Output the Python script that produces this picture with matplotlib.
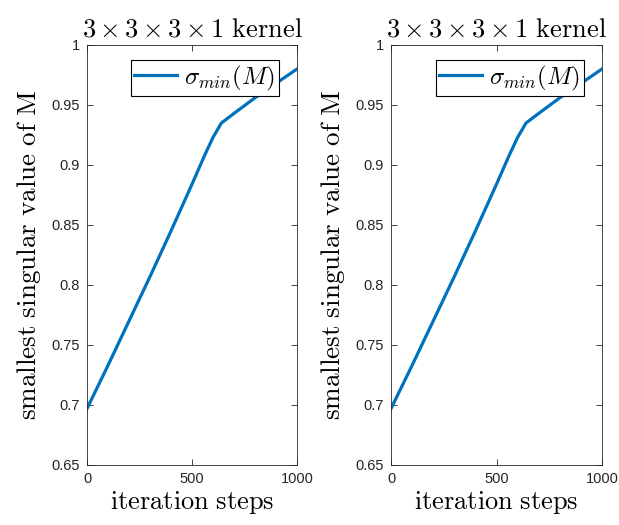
import matplotlib
matplotlib.use('Agg')
import matplotlib.pyplot as plt
from matplotlib.ticker import FuncFormatter

# values
steps = [0, 100, 200, 300, 400, 500, 560, 600, 640, 700, 800, 900, 1000]
sigma_min = [0.697, 0.733, 0.770, 0.807, 0.845, 0.884, 0.908, 0.923, 0.935,
             0.943, 0.956, 0.968, 0.980]

x_ticks = [0, 500, 1000]
y_ticks = [0.65, 0.7, 0.75, 0.8, 0.85, 0.9, 0.95, 1.0]

title = r'$3 \times 3 \times 3 \times 1\ \mathrm{kernel}$'
xlabel = r'$\mathrm{iteration\ steps}$'
ylabel = r'$\mathrm{smallest\ singular\ value\ of\ M}$'
legend_label = r'$\sigma_{min}(M)$'

plt.rcParams['mathtext.fontset'] = 'cm'
plt.rcParams['font.family'] = 'Liberation Sans'

line_color = '#0072BD'
axis_color = '#262626'

fig = plt.figure(figsize=(6.19, 5.25), dpi=100)

positions = [[87 / 619, 60 / 525, 210 / 619, 420 / 525],
             [391 / 619, 60 / 525, 211 / 619, 420 / 525]]

for pos in positions:
    ax = fig.add_axes(pos)
    ax.plot(steps, sigma_min, color=line_color, linewidth=2.3, label=legend_label)
    ax.set_xlim(0, 1000)
    ax.set_ylim(0.65, 1.0)
    ax.set_xticks(x_ticks)
    ax.set_yticks(y_ticks)
    ax.yaxis.set_major_formatter(FuncFormatter(lambda v, p: '%g' % v))
    ax.tick_params(direction='in', top=True, right=True, labelsize=10.5,
                   colors=axis_color, length=4, width=0.6, pad=5)
    for s in ax.spines.values():
        s.set_color(axis_color)
        s.set_linewidth(0.6)
    ax.set_title(title, fontsize=19, pad=6)
    ax.set_xlabel(xlabel, fontsize=19, labelpad=2)
    ax.set_ylabel(ylabel, fontsize=19.5, labelpad=6)
    leg = ax.legend(loc='upper right', fontsize=18, fancybox=False,
                    edgecolor='black', framealpha=1, borderpad=0.15,
                    handlelength=1.7, handletextpad=0.3,
                    bbox_to_anchor=(0.915, 0.965), borderaxespad=0)
    leg.get_frame().set_linewidth(0.8)

fig.savefig('out.png', dpi=100)
